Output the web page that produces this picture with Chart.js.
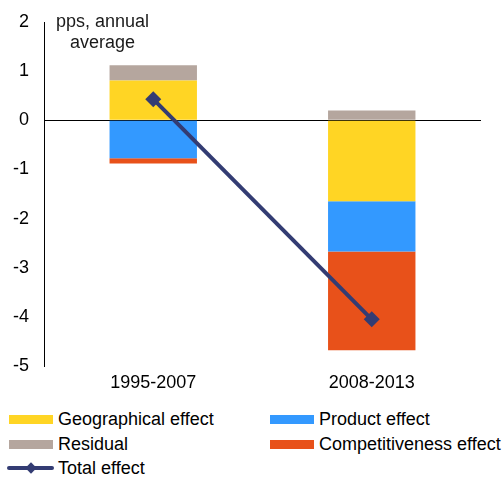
<!DOCTYPE html>
<html>
<head>
<meta charset="utf-8">
<script src="https://cdn.jsdelivr.net/npm/chart.js@4"></script>
<style>
  html, body { margin: 0; padding: 0; background: #fff; }
  body { width: 504px; height: 482px; position: relative; overflow: hidden;
         font-family: "Liberation Sans", Arial, sans-serif; }
  #wrap { position: absolute; left: 0; top: 0; width: 504px; height: 400px; }
  .lg { position: absolute; font-size: 18px; color: #000; line-height: 20px; white-space: nowrap; }
  .sw { position: absolute; width: 44px; height: 9px; }
</style>
</head>
<body>
<div id="wrap"><canvas id="c" width="504" height="400"></canvas></div>
<div id="legend"></div>
<script>
// ---- Data ----
const categories = ["1995-2007", "2008-2013"];
const geographical = [0.81, -1.65];
const product = [-0.77, -1.02];
const residual = [0.31, 0.20];
const competitiveness = [-0.11, -2.01];
const total = [0.43, -4.05];
const unitLabel = ["pps, annual", "average"];

const names = {
  geo: "Geographical effect",
  prod: "Product effect",
  res: "Residual",
  comp: "Competitiveness effect",
  tot: "Total effect"
};
const colors = {
  geo: "#FFD524",
  prod: "#3399FF",
  res: "#B5A69E",
  comp: "#E8511A",
  tot: "#333C73"
};

const FONT = "'Liberation Sans', Arial, sans-serif";

const unitText = {
  id: "unitText",
  afterDraw(chart) {
    const ctx = chart.ctx;
    ctx.save();
    ctx.font = "18px " + FONT;
    ctx.fillStyle = "#1a1a1a";
    ctx.textAlign = "center";
    ctx.textBaseline = "middle";
    ctx.fillText(unitLabel[0], 102.5, 22);
    ctx.fillText(unitLabel[1], 102.5, 43);
    ctx.restore();
  }
};

new Chart(document.getElementById("c"), {
  type: "bar",
  data: {
    labels: categories,
    datasets: [
      { label: names.tot, type: "line", data: total, borderColor: colors.tot,
        backgroundColor: colors.tot, borderWidth: 4, pointStyle: "rectRot",
        pointRadius: 8, pointHoverRadius: 8, pointBackgroundColor: colors.tot,
        pointBorderWidth: 0, order: 0, stack: "line" },
      { label: names.geo, data: geographical, backgroundColor: colors.geo, stack: "s", order: 1 },
      { label: names.prod, data: product, backgroundColor: colors.prod, stack: "s", order: 1 },
      { label: names.res, data: residual, backgroundColor: colors.res, stack: "s", order: 1 },
      { label: names.comp, data: competitiveness, backgroundColor: colors.comp, stack: "s", order: 1 }
    ]
  },
  options: {
    responsive: false,
    animation: false,
    devicePixelRatio: 1,
    layout: { padding: { left: 0, right: 23, top: 22, bottom: 0 } },
    datasets: { bar: { categoryPercentage: 0.4, barPercentage: 1.0, borderWidth: 0 } },
    plugins: { legend: { display: false }, tooltip: { enabled: false } },
    scales: {
      x: {
        stacked: true,
        grid: { display: false, drawTicks: false },
        border: { display: false },
        ticks: { font: { size: 18, family: FONT }, color: "#000", padding: 6 },
        afterFit(scale) { scale.height = 34; }
      },
      y: {
        stacked: true,
        min: -5, max: 2,
        grid: {
          drawTicks: true,
          tickLength: 11,
          tickColor: "rgba(0,0,0,0)",
          color: (c) => (c.tick && c.tick.value === 0 ? "#000" : "rgba(0,0,0,0)"),
          lineWidth: 1
        },
        border: { display: true, color: "#000", width: 1 },
        ticks: { stepSize: 1, font: { size: 18, family: FONT }, color: "#000", padding: 4 },
        afterFit(scale) { scale.width = 44; }
      }
    }
  },
  plugins: [unitText]
});

// ---- HTML legend ----
const legendItems = [
  { key: "geo", col: 0, row: 0 },
  { key: "prod", col: 1, row: 0 },
  { key: "res", col: 0, row: 1 },
  { key: "comp", col: 1, row: 1 },
  { key: "tot", col: 0, row: 2, line: true }
];
const colX = [9, 270];
const rowY = [419, 444, 468];
const lg = document.getElementById("legend");
legendItems.forEach((it) => {
  const cy = rowY[it.row];
  const x = colX[it.col];
  if (it.line) {
    const ln = document.createElement("div");
    ln.style.cssText = `position:absolute;left:${x - 2}px;top:${cy - 2}px;width:47px;height:4px;background:${colors[it.key]};border-radius:2px;`;
    lg.appendChild(ln);
    const d = document.createElement("div");
    d.style.cssText = `position:absolute;left:${x + 22 - 4}px;top:${cy - 4}px;width:8px;height:8px;background:${colors[it.key]};transform:rotate(45deg);`;
    lg.appendChild(d);
  } else {
    const sw = document.createElement("div");
    sw.className = "sw";
    sw.style.left = x + "px";
    sw.style.top = (cy - 4.5) + "px";
    sw.style.background = colors[it.key];
    lg.appendChild(sw);
  }
  const t = document.createElement("div");
  t.className = "lg";
  t.textContent = names[it.key];
  t.style.left = (x + 49) + "px";
  t.style.top = (cy - 10) + "px";
  lg.appendChild(t);
});
</script>
</body>
</html>
